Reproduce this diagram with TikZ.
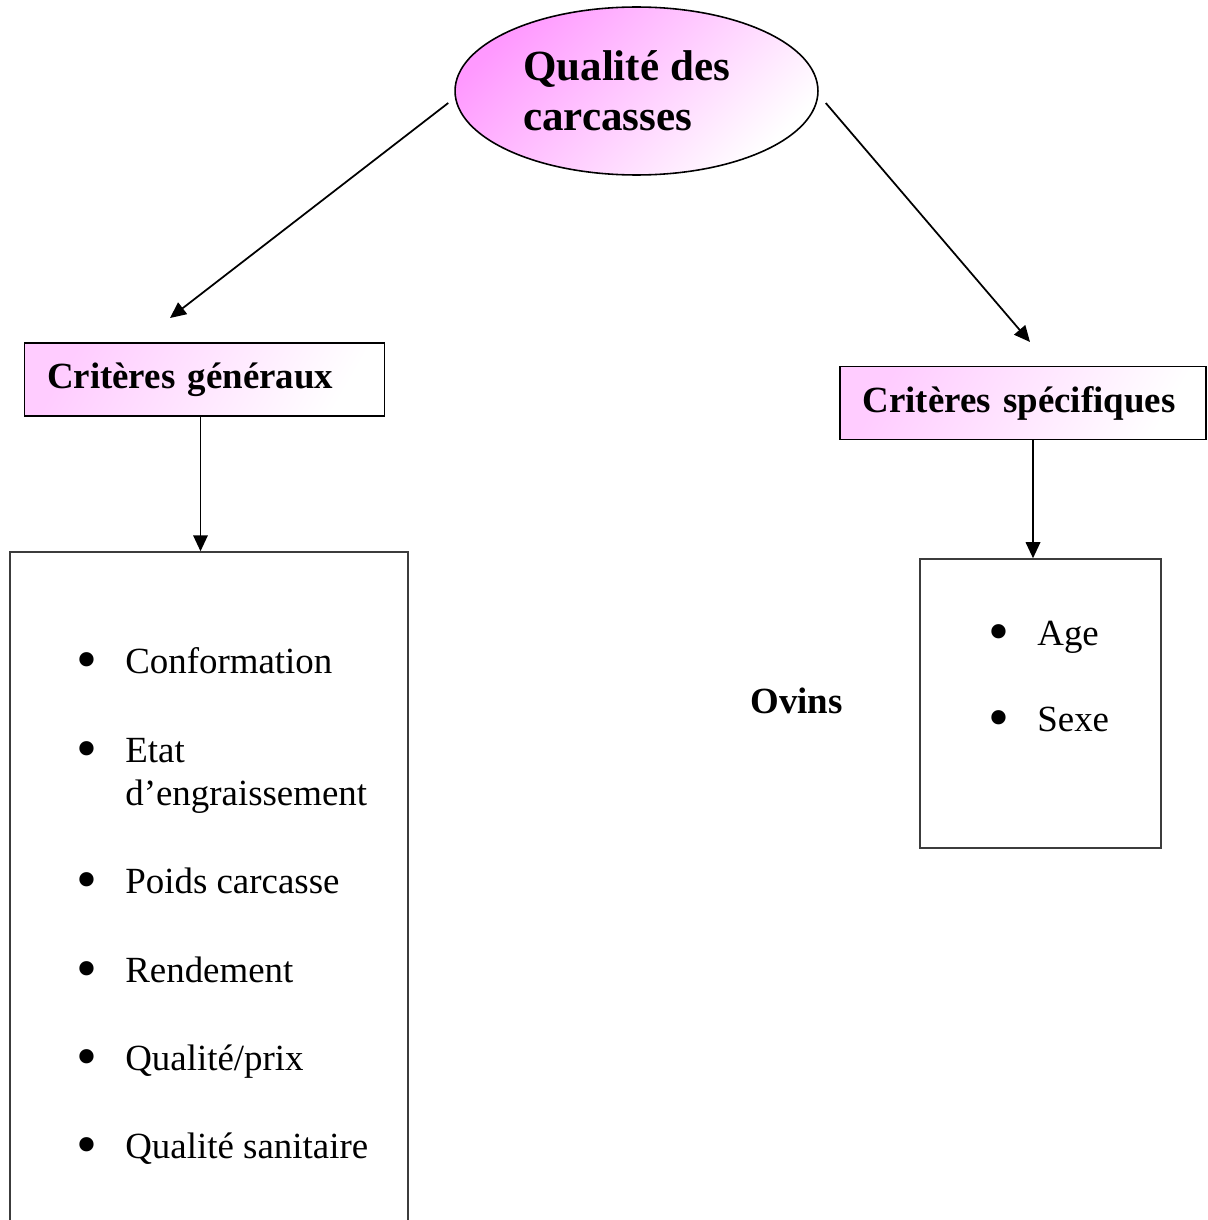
\documentclass[tikz,border=0pt]{standalone}
\usepackage{fontspec}
\setmainfont{Liberation Serif}
\usetikzlibrary{positioning,shapes.geometric,arrows.meta}
\definecolor{mypink}{RGB}{255,153,255}
\definecolor{lightpink}{RGB}{255,204,255}
\definecolor{boxgray}{RGB}{60,60,60}
\tikzset{
		arr/.style = 	{line width=1pt, -{Triangle[length=0.32cm,width=0.29cm]}},
		crit/.style = 	{draw, line width=0.9pt, rectangle, top color=lightpink, bottom color=white, shading angle=60,
				minimum height=1.46cm, inner xsep=0.45cm, inner ysep=0pt, align=left, font=\fontsize{21}{25}\selectfont\bfseries},
		listbox/.style = {draw=boxgray, line width=0.9pt, rectangle},
		item/.style = 	{anchor=base west, inner sep=0pt, align=left, font=\fontsize{21}{24.4}\selectfont},
		dot/.style = 	{anchor=base, inner sep=0pt, yshift=-0.13cm, font=\fontsize{34}{34}\selectfont}
}

\begin{document}
\begin{tikzpicture}[x=0.02cm, y=-0.02cm]
  \useasboundingbox (0,0) rectangle (1207,1220);
  \clip (0,0) rectangle (1207,1220);

  \node [ellipse, draw, line width=0.9pt, top color=mypink, bottom color=white, shading angle=45,
         minimum width=7.26cm, minimum height=3.36cm, inner sep=0pt, align=left,
         font=\fontsize{24.5}{28.5}\selectfont\bfseries] (qual) at (636.5,91)
         {\hspace*{-0.4cm}Qualité des\\\hspace*{-0.4cm}carcasses};

  \node [crit, text width=6.3cm]  (gen)  at (204.5,379.5) {Critères généraux};
  \node [crit, text width=6.42cm] (spec) at (1023,403)    {Critères spécifiques};

  \node [listbox, minimum width=7.96cm, minimum height=13.76cm] (genL)  at (209,896)     {};
  \node [listbox, minimum width=4.82cm, minimum height=5.78cm]  (specL) at (1040.5,703.5) {};

  % bullet line / text base line / text
  \foreach \yd/\y/\txt [count=\i] in {673/673/Conformation, 762/805/{Etat\\d’engraissement},
                                      893/893/Poids carcasse, 982/982/Rendement,
                                      1070/1070/{Qualité/prix}, 1158/1158/Qualité sanitaire}
     {\node [dot]  (gd\i) at (86.5,\yd) {•};
      \node [item] (gi\i) at (125,\y)   {\txt};}

  \foreach \y/\txt [count=\i] in {645/Age, 731/Sexe}
     {\node [dot]  (sd\i) at (998.5,\y) {•};
      \node [item] (si\i) at (1037,\y)  {\txt};}

  \node [item, font=\fontsize{21}{24.4}\selectfont\bfseries] (ovins) at (750,713) {Ovins};

  \coordinate (genTip)  at (170,318);
  \coordinate (specTip) at (1030,342);
  \draw [arr] ([shift={(-6,12)}]qual.west) -- (genTip);
  \draw [arr] ([shift={(7,12)}]qual.east) -- (specTip);
  \draw [arr] ([shift={(-4,0)}]gen.south) -- ([shift={(-4,0)}]gen.south |- genL.north);
  \draw [arr] ([shift={(10,0)}]spec.south) -- ([shift={(10,0)}]spec.south |- specL.north);

\end{tikzpicture}
\end{document}
